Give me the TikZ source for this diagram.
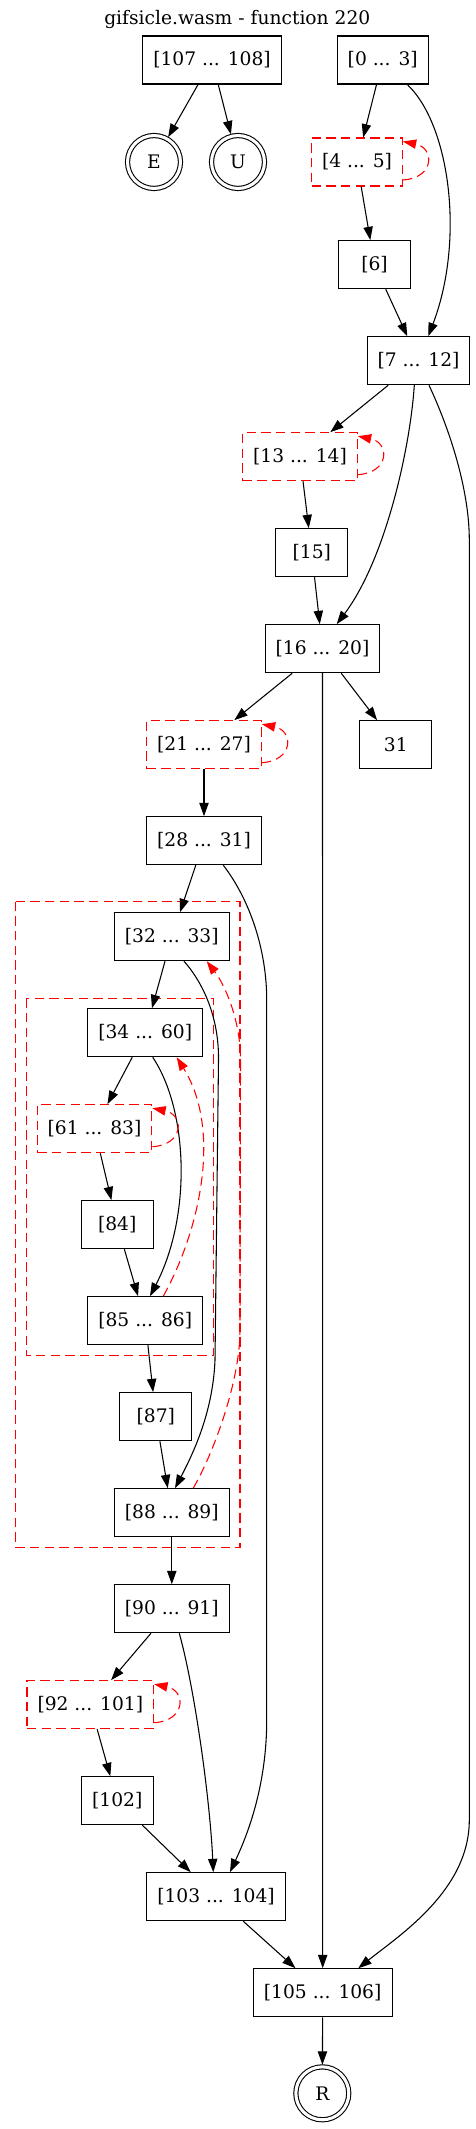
\documentclass[tikz,border=0pt]{standalone}
\usepackage{fontspec}
\setmainfont{DejaVu Serif}
\usetikzlibrary{arrows.meta,calc}
\newcommand{\fsz}{\fontsize{14pt}{16pt}\selectfont}
\begin{document}
\begin{tikzpicture}[x=0.75pt,y=-0.75pt,
  box/.style={draw, rectangle, minimum height=36pt, inner sep=0pt, font=\fsz, line width=0.8pt},
  bw/.style={minimum width=#1},
  loopbox/.style={box, draw=red, dash pattern=on 7pt off 4pt},
  term/.style={draw, circle, double, double distance=2.3pt, line width=0.8pt, minimum size=39.7pt, inner sep=0pt, outer sep=1.6pt, font=\fsz},
  edge/.style={-{Triangle[length=10pt,width=7pt]}, line width=0.8pt},
  back/.style={edge, draw=red, fill=none, dash pattern=on 7pt off 4pt},
  cluster/.style={draw=red, line width=0.8pt, dash pattern=on 7pt off 4pt}]
\useasboundingbox (0,0) rectangle (475,2129);
\node[font=\fsz] (title) at (237.3,19) {gifsicle.wasm - function 220};
% clusters
\draw[cluster] (15.7,901.7) rectangle (240,1547.3);
\draw[cluster] (26.7,998.3) rectangle (213.3,1355.7);
% nodes
\node[box, bw=104pt] (n107) at (212,60) {[107 ... 108]};
\node[box, bw=68pt] (n0) at (382.7,60) {[0 ... 3]};
\node[term] (E) at (154,162) {E};
\node[term] (U) at (238,162) {U};
\node[loopbox, bw=68pt] (n4) at (357,162) {[4 ... 5]};
\node[box, bw=54pt] (n6) at (374.5,264.7) {[6]};
\node[box, bw=77pt] (n7) at (418.5,360.7) {[7 ... 12]};
\node[loopbox, bw=86pt] (n13) at (300,456.7) {[13 ... 14]};
\node[box, bw=54pt] (n15) at (311.8,552.7) {[15]};
\node[box, bw=86pt] (n16) at (322.5,648.7) {[16 ... 20]};
\node[loopbox, bw=86pt] (n21) at (204,744.7) {[21 ... 27]};
\node[box, bw=54pt] (n31) at (395.8,744.7) {31};
\node[box, bw=86pt] (n28) at (204,840.7) {[28 ... 31]};
\node[box, bw=86pt] (n32) at (171.8,936.7) {[32 ... 33]};
\node[box, bw=86pt] (n34) at (145.2,1032.7) {[34 ... 60]};
\node[loopbox, bw=86pt] (n61) at (94.5,1128.7) {[61 ... 83]};
\node[box, bw=54pt] (n84) at (117.2,1224.7) {[84]};
\node[box, bw=86pt] (n85) at (145.2,1320.7) {[85 ... 86]};
\node[box, bw=54pt] (n87) at (155.8,1416.7) {[87]};
\node[box, bw=86pt] (n88) at (171.8,1512.7) {[88 ... 89]};
\node[box, bw=86pt] (n90) at (171.8,1608.7) {[90 ... 91]};
\node[loopbox, bw=95pt] (n92) at (90.3,1704.7) {[92 ... 101]};
\node[box, bw=54pt] (n102) at (117.2,1800.7) {[102]};
\node[box, bw=104pt] (n103) at (216,1896.7) {[103 ... 104]};
\node[box, bw=104pt] (n105) at (322.7,1992.7) {[105 ... 106]};
\node[term] (R) at (322.3,2093.3) {R};
% straight edges
\draw[edge] (n107) -- (E);
\draw[edge] (n107) -- (U);
\draw[edge] (n0) -- (n4);
\draw[edge] (n4) -- (n6);
\draw[edge] (n6) -- (n7);
\draw[edge] (n7) -- (n13);
\draw[edge] (n13) -- (n15);
\draw[edge] (n15) -- (n16);
\draw[edge] (n16) -- (n21);
\draw[edge] (n16) -- (n31);
\draw[edge] (n16.south) -- (n105.north);
\draw[edge] (n21) -- (n28);
\draw[edge] (n28) -- (n32);
\draw[edge] (n32) -- (n34);
\draw[edge] (n34) -- (n61);
\draw[edge] (n61) -- (n84);
\draw[edge] (n84) -- (n85);
\draw[edge] (n85) -- (n87);
\draw[edge] (n87) -- (n88);
\draw[edge] (n88) -- (n90);
\draw[edge] (n90) -- (n92);
\draw[edge] (n92) -- (n102);
\draw[edge] (n102) -- (n103);
\draw[edge] (n103) -- (n105);
\draw[edge] (n105) -- (R);
% curved edges
\draw[edge] ($(n0.south)+(24.6,0)$) .. controls (450,125) and (465,240) .. ($(n7.north)+(9.8,0)$);
\draw[edge] ($(n7.south)+(-4.2,0)$) .. controls (410,450) and (385,560) .. ($(n16.north)+(14.2,0)$);
\draw[edge] ($(n7.south)+(10.5,0)$) .. controls (450,430) and (469.3,490) .. (469.3,540) -- (469.3,1820) .. controls (469.3,1890) and (400,1935) .. ($(n105.north)+(35.6,0)$);
\draw[edge] ($(n28.south)+(19.3,0)$) .. controls (250,900) and (266.7,950) .. (266.7,1000) -- (266.7,1720) .. controls (266.7,1790) and (245,1840) .. ($(n103.north)+(14,0)$);
\draw[edge] ($(n32.south)+(12.2,0)$) .. controls (205,985) and (219,1020) .. (218.5,1060) -- (215,1360) .. controls (213,1410) and (195,1450) .. ($(n88.north)+(3.2,0)$);
\draw[edge] ($(n34.south)+(7.5,0)$) .. controls (188,1110) and (192,1215) .. ($(n85.north)+(4.8,0)$);
\draw[edge] ($(n90.south)+(7.5,0)$) .. controls (195,1690) and (210,1800) .. ($(n103.north)+(-2.7,0)$);
% back edges
\draw[back] ($(n85.north)+(18.1,0)$) .. controls (200,1230) and (222,1130) .. ($(n34.south)+(31.5,0)$);
\draw[back] ($(n88.north)+(21.5,0)$) .. controls (215,1450) and (240,1380) .. (240,1330) -- (240.5,1060) .. controls (240.5,1020) and (225,985) .. ($(n32.south)+(34.9,0)$);
% self loops
\foreach \n in {n4,n13,n21,n61,n92}{
  \draw[back] ($(\n.east)+(0,18)$) .. controls ($(\n.east)+(32,16)$) and ($(\n.east)+(32,-14)$) .. ($(\n.north east)+(0,4)$);
}
\end{tikzpicture}
\end{document}
